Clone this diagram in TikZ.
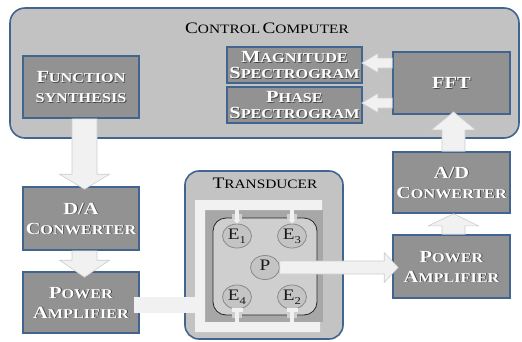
\documentclass[tikz,border=0pt]{standalone}
\usepackage{fontspec}
\usepackage{graphicx}
\setmainfont{Liberation Serif}
\usetikzlibrary{calc,shapes.geometric,arrows.meta}

\definecolor{ccfill}{HTML}{C2C2C2}
\definecolor{boxfill}{HTML}{929292}
\definecolor{edge}{HTML}{41658F}
\definecolor{arrowfill}{HTML}{F1F1F1}
\definecolor{arrowedge}{HTML}{CDCDCD}
\definecolor{trfill}{HTML}{C3C3C3}
\definecolor{rimfill}{HTML}{A7A7A7}
\definecolor{corefill}{HTML}{CFCFCF}
\definecolor{elecfill}{HTML}{C4C4C4}
\definecolor{elecedge}{HTML}{8A8A8A}
\definecolor{shade}{HTML}{474747}

% wide lettering: the serif face stretched sideways
\newcommand\wide[1]{\scalebox{1.2}[1]{#1}}
% hand-made small caps: large initial, smaller remaining capitals
\newcommand\capsbig{\fontsize{17}{20}\selectfont}
\newcommand\capssmall{\fontsize{13.5}{20}\selectfont}
\newcommand\scw[2]{{\capsbig#1}{\capssmall#2}}
\newcommand\scwt[2]{{\fontsize{16}{18}\selectfont#1}{\fontsize{12.8}{18}\selectfont#2}}
% white lettering with a dark drop shadow
\newcommand\embossed[1]{\leavevmode\rlap{\hspace{0.9pt}\raisebox{-0.9pt}[0pt][0pt]{\color{shade}\wide{#1}}}{\color{white}\wide{#1}}}

% broad block arrow: #1 from, #2 to, #3 half shaft, #4 half head, #5 head length
\newcommand\fatarrow[5]{%
  \path ($(#2)!#5!(#1)$) coordinate (fa-base);
  \filldraw[fatarrow]
    ($(#1)!#3!90:(#2)$) -- ($(fa-base)!#3!90:(#2)$) -- ($(fa-base)!#4!90:(#2)$) -- (#2)
    -- ($(fa-base)!#4!-90:(#2)$) -- ($(fa-base)!#3!-90:(#2)$) -- ($(#1)!#3!-90:(#2)$) -- cycle;}

\tikzset{
  box/.style={draw=edge, line width=1.6pt, fill=boxfill, inner sep=0pt, align=center,
    font=\bfseries\fontsize{17}{20}\selectfont},
  fatarrow/.style={fill=arrowfill, draw=arrowedge, line width=0.6pt, line join=miter},
  title/.style={text=black},
  electrode/.style={ellipse, draw=elecedge, line width=0.8pt, fill=elecfill, minimum width=29pt,
    minimum height=24pt, inner sep=0pt, font=\fontsize{16}{16}\selectfont, text=black!90},
  wire/.style={draw=arrowfill, line width=3.2pt},
}
\newcommand\elabel[2]{\wide{#1\raisebox{-4pt}{\fontsize{10.5}{10.5}\selectfont#2}}}

\begin{document}
\begin{tikzpicture}[x=1pt,y=-1pt]
\useasboundingbox (0,0) rectangle (522,341);

% control computer enclosure
\node[draw=edge, line width=1.6pt, fill=ccfill, rounded corners=15pt,
  minimum width=509pt, minimum height=130pt] (cc) at (264.5,73) {};
\node[title] (cctitle) at (267,28) {\wide{\scwt{C}{ONTROL}\hspace{2pt}\scwt{C}{OMPUTER}}};

% processing blocks
\node[box, minimum width=116pt, minimum height=62pt] (fs) at (81,87)
  {\embossed{\scw{F}{UNCTION}}\\\embossed{\capssmall SYNTHESIS}};
\node[box, minimum width=135pt, minimum height=36pt,
  font=\bfseries\fontsize{17}{16}\selectfont] (mag) at (294.5,65)
  {\embossed{\scw{M}{AGNITUDE}}\\\embossed{\scw{S}{PECTROGRAM}}};
\node[box, minimum width=135pt, minimum height=36pt,
  font=\bfseries\fontsize{17}{16}\selectfont] (pha) at (294.5,105)
  {\embossed{\scw{P}{HASE}}\\\embossed{\scw{S}{PECTROGRAM}}};
\node[box, minimum width=117pt, minimum height=62pt] (fft) at (451.5,83) {\embossed{FFT}};
\node[box, minimum width=116pt, minimum height=63pt] (da) at (81,218.5)
  {\embossed{D/A}\\\embossed{\scw{C}{ONWERTER}}};
\node[box, minimum width=116pt, minimum height=61pt] (pal) at (81,302.5)
  {\embossed{\scw{P}{OWER}}\\\embossed{\scw{A}{MPLIFIER}}};
\node[box, minimum width=117pt, minimum height=61pt] (ad) at (451.5,182.5)
  {\embossed{A/D}\\\embossed{\scw{C}{ONWERTER}}};
\node[box, minimum width=117pt, minimum height=63pt] (par) at (451.5,266.5)
  {\embossed{\scw{P}{OWER}}\\\embossed{\scw{A}{MPLIFIER}}};

% transducer
\node[draw=edge, line width=1.6pt, fill=trfill, rounded corners=14pt,
  minimum width=158pt, minimum height=168pt] (tr) at (264,255) {};
\node[title] (trtitle) at (265,183) {\wide{\scwt{T}{RANSDUCER}}};

\fill[rimfill] (205,210) rectangle (323,322);
\fill[arrowfill] (195,200) -- (322,200) -- (322,210) -- (205,210) -- (205,322)
  -- (320,322) -- (320,332) -- (195,332) -- cycle;
\draw[black!85, line width=0.8pt, fill=corefill, rounded corners=13pt] (213,218) rectangle (317,315);

\coordinate (topbar) at (0,208);
\coordinate (botbar) at (0,324);
\coordinate (brk) at (200,305);

\node[electrode] (e1) at (237,236) {\elabel{E}{1}};
\node[electrode] (e3) at (292,236) {\elabel{E}{3}};
\node[electrode] (p)  at (265,267.5) {\elabel{P}{}};
\node[electrode] (e4) at (237,297) {\elabel{E}{4}};
\node[electrode] (e2) at (292,297) {\elabel{E}{2}};

% electrode leads
\foreach \e in {e1,e3} {
  \fill[corefill] ($(\e.north |- topbar)+(-5,6)$) rectangle ($(\e.north |- topbar)+(5,12)$);
  \draw[wire, -{Triangle[width=7pt,length=4pt]}] (\e.north |- topbar) -- (\e.north);
}
\foreach \e in {e4,e2} {
  \fill[corefill] ($(\e.south |- botbar)+(-5,-11)$) rectangle ($(\e.south |- botbar)+(5,-6)$);
  \draw[wire] (\e.south) -- (\e.south |- botbar);
  \draw[wire] ($(\e.south)+(-5.5,0.5)$) -- ($(\e.south)+(5.5,0.5)$);
}

% block arrows
\coordinate (a1s) at ($(fs.south)+(3.5,0)$);
\coordinate (a1e) at ($(da.north)+(3.5,3)$);
\coordinate (a2s) at ($(da.south)+(3.5,0)$);
\coordinate (a2e) at ($(pal.north)+(3.5,6)$);
\coordinate (a3s) at ($(par.north)+(2,0)$);
\coordinate (a3e) at ($(ad.south)+(2,0)$);
\coordinate (a4s) at ($(ad.north)+(2,0)$);
\coordinate (a4e) at ($(fft.south)+(2,-3)$);
\coordinate (a5s) at ($(fft.west)+(0,-20)$);
\coordinate (a5e) at ($(mag.east)+(-1,-2)$);
\coordinate (a6s) at ($(fft.west)+(0,20)$);
\coordinate (a6e) at ($(pha.east)+(-1,-2)$);
\coordinate (a7e) at ($(p.east -| par.west)+(6,0)$);

\fatarrow{a1s}{a1e}{12.5pt}{25pt}{15pt}
\fatarrow{a2s}{a2e}{12.5pt}{25pt}{17pt}
\fatarrow{a3s}{a3e}{11.5pt}{25pt}{12pt}
\fatarrow{a4s}{a4e}{11.5pt}{22pt}{18pt}
\fatarrow{a5s}{a5e}{5pt}{9.5pt}{16pt}
\fatarrow{a6s}{a6e}{5pt}{9.5pt}{16pt}
\fatarrow{p.east}{a7e}{6.5pt}{15pt}{14pt}

% drive signal feed into the transducer
\fill[arrowfill] ($(pal.east)+(-6,-5.5)$) rectangle ($(brk)+(0,7.5)$);
\end{tikzpicture}
\end{document}
